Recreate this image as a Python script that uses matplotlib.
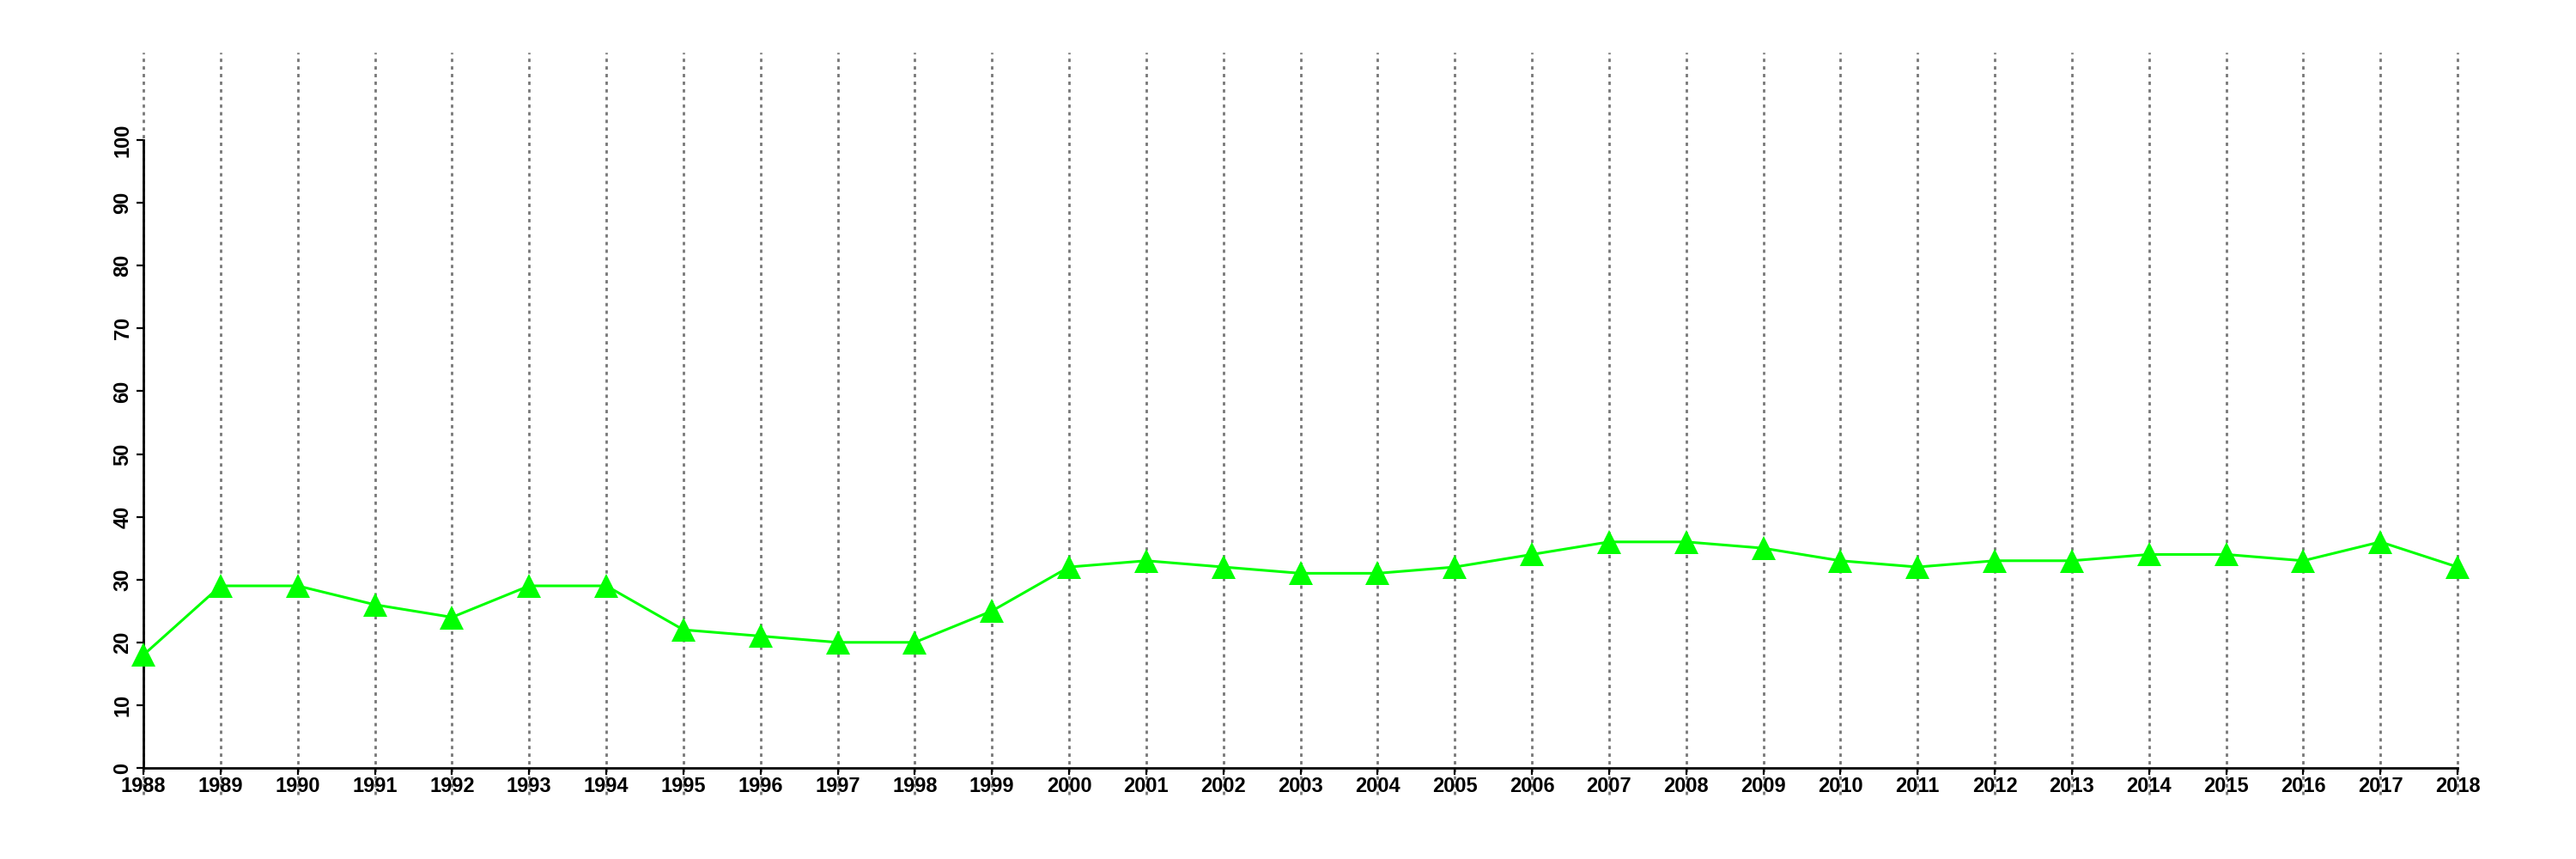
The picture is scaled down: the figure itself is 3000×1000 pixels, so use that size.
import matplotlib
matplotlib.use("Agg")
import matplotlib.pyplot as plt

# values
years = list(range(1988, 2019))
values = [18, 29, 29, 26, 24, 29, 29, 22, 21, 20, 20, 25, 32, 33, 32, 31,
          31, 32, 34, 36, 36, 35, 33, 32, 33, 33, 34, 34, 33, 36, 32]
y_ticks = list(range(0, 101, 10))

plt.rcParams['font.family'] = ['Liberation Sans', 'DejaVu Sans']
plt.rcParams['font.weight'] = 'bold'
plt.rcParams['lines.scale_dashes'] = False

fig = plt.figure(figsize=(30, 10), dpi=100)
ax = fig.add_axes([0.0557, 0.106, 0.8983, 0.731])

# dotted vertical guides, running past the plot area like the original
for yr in years:
    ax.axvline(yr, ymin=-0.042, ymax=1.14, color='#777777', lw=2,
               linestyle=(0, (2.8, 3.6)), clip_on=False, zorder=1)

ax.plot(years, values, color='#00ff00', lw=2.2, marker='^', markersize=20,
        markeredgewidth=0, zorder=3, clip_on=False)

ax.set_xlim(1988, 2018)
ax.set_ylim(0, 100)
ax.set_xticks(years)
ax.set_yticks(y_ticks)
for s in ['top', 'right']:
    ax.spines[s].set_visible(False)
for s in ['left', 'bottom']:
    ax.spines[s].set_linewidth(2)
ax.tick_params(axis='both', length=6, width=1.6, labelsize=17)
ax.tick_params(axis='x', pad=1)
ax.tick_params(axis='y', pad=3)
for lbl in ax.get_yticklabels():
    lbl.set_rotation(90)
    lbl.set_va('center')

fig.savefig('out.png', dpi=100)
